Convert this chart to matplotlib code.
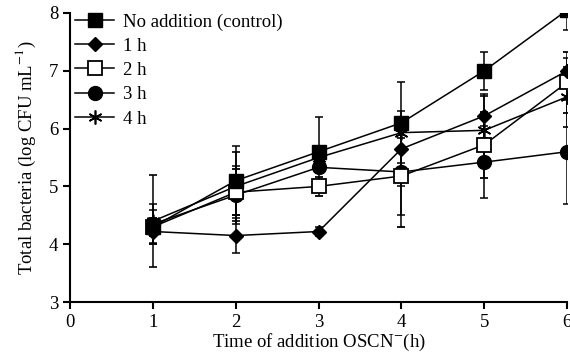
import matplotlib
matplotlib.use("Agg")
import matplotlib.pyplot as plt

plt.rcParams['font.family'] = ['Liberation Serif', 'DejaVu Serif']
plt.rcParams['mathtext.fontset'] = 'stix'

# данные
hours = [1, 2, 3, 4, 5, 6]
control = [4.30, 5.10, 5.60, 6.10, 7.00, 8.05]
control_err = [0.30, 0.60, 0.60, 0.70, 0.33, 0.35]
add_1h = [4.22, 4.15, 4.22, 5.65, 6.22, 7.00]
add_1h_err = [0.20, 0.30, 0.07, 0.65, 0.38, 0.22]
add_2h = [4.30, 4.90, 5.00, 5.18, 5.72, 6.80]
add_2h_err = [0.15, 0.40, 0.17, 0.88, 0.57, 0.53]
add_3h = [4.35, 4.85, 5.33, 5.25, 5.42, 5.60]
add_3h_err = [0.35, 0.50, 0.10, 0.75, 0.62, 0.90]
add_4h = [4.40, 5.00, 5.50, 5.93, 5.97, 6.55]
add_4h_err = [0.80, 0.60, 0.10, 0.10, 0.60, 0.52]

labels = ['No addition (control)', '1 h', '2 h', '3 h', '4 h']

fig = plt.figure(figsize=(5.7, 3.6), dpi=100)
ax = fig.add_axes([0.123, 0.161, 0.872, 0.803])

series = [
    (add_4h, add_4h_err, dict(marker=(6, 2, 0), ms=10, mfc='black', mew=1.2)),
    (add_3h, add_3h_err, dict(marker='o', ms=10, mfc='black')),
    (add_2h, add_2h_err, dict(marker='s', ms=9.5, mfc='white', mew=1.3)),
    (add_1h, add_1h_err, dict(marker='D', ms=7, mfc='black')),
    (control, control_err, dict(marker='s', ms=10, mfc='black')),
]
handles = []
for vals, err, style in series:
    h = ax.errorbar(hours, vals, yerr=err, color='black', lw=1.1,
                    elinewidth=1.1, capsize=3, capthick=1.1,
                    mec='black', **style)
    handles.append(h[0])

handles = handles[::-1]
ax.legend(handles, labels, loc='upper left', bbox_to_anchor=(-0.005, 1.025),
          frameon=False, fontsize=13.5, handlelength=2.1, handletextpad=0.45,
          labelspacing=0.38, borderaxespad=0.0)

ax.set_xlim(0, 6)
ax.set_ylim(3, 8)
ax.set_xticks(range(0, 7))
ax.set_yticks(range(3, 9))
ax.spines['top'].set_visible(False)
ax.spines['right'].set_visible(False)
ax.spines['left'].set_linewidth(1.5)
ax.spines['bottom'].set_linewidth(1.5)
ax.tick_params(direction='out', length=5, width=1.5, labelsize=13.5)

ax.set_xlabel('Time of addition OSCN$^{-}$(h)', fontsize=13.5, labelpad=1)
ax.set_ylabel('Total bacteria (log CFU mL$^{-1}$)', fontsize=13.5, labelpad=8)

plt.savefig('out.png', dpi=100)
